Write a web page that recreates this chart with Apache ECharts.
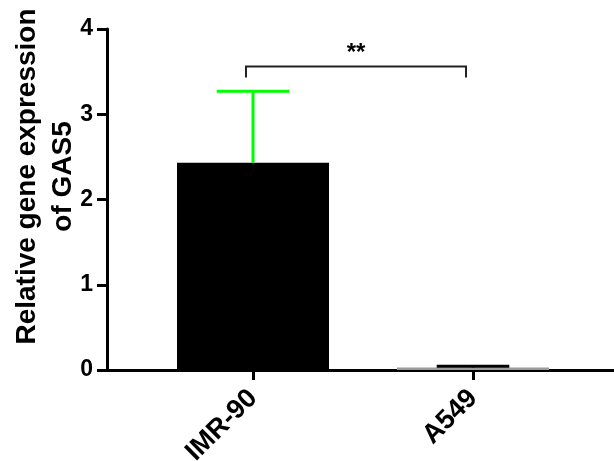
<!DOCTYPE html>
<html>
<head>
<meta charset="utf-8">
<script src="https://cdn.jsdelivr.net/npm/echarts@6/dist/echarts.min.js"></script>
<style>
  html, body { margin: 0; padding: 0; background: #fff; }
  #chart { width: 614px; height: 461px; }
</style>
</head>
<body>
<div id="chart"></div>
<script>
// data
var categories = ['IMR-90', 'A549'];
var means = [2.43, 0.03];
var errTops = [3.27, 0.045];
var barColors = ['#000000', '#9a9a9a'];
var errColors = ['#00ff00', '#000000'];
var yTicks = [0, 1, 2, 3, 4];
// significance bracket: from category 0 to 1, top and foot values, label
var bracket = [0, 1, 3.56, 3.43, '**'];

var font = "'Liberation Sans', Arial, sans-serif";
var chart = echarts.init(document.getElementById('chart'));

var barData = means.map(function (v, i) {
    return { value: v, itemStyle: { color: barColors[i] } };
});
var errData = means.map(function (v, i) {
    return [i, v, errTops[i]];
});

var option = {
    animation: false,
    grid: [
        { left: 143, right: 31, top: 29, bottom: 91, outerBoundsMode: 'none', containLabel: false },
        { left: 107, right: 0, top: 29, bottom: 91, outerBoundsMode: 'none', containLabel: false }
    ],
    xAxis: [
        {
            type: 'category',
            gridIndex: 0,
            data: categories,
            axisLine: { show: false },
            axisTick: { show: true, alignWithLabel: true, length: 10, lineStyle: { color: '#000', width: 3 } },
            axisLabel: {
                rotate: 45, margin: 24, color: '#000',
                fontSize: 27, fontWeight: 'bold', fontFamily: font
            }
        },
        {
            type: 'value',
            gridIndex: 1,
            min: 0, max: 1,
            axisLine: { show: true, lineStyle: { color: '#000', width: 3 } },
            axisTick: { show: false },
            axisLabel: { show: false },
            splitLine: { show: false }
        }
    ],
    yAxis: [
        {
            type: 'value',
            gridIndex: 0,
            min: yTicks[0], max: yTicks[yTicks.length - 1], interval: 1,
            offset: 36,
            name: 'Relative gene expression\nof GAS5',
            nameLocation: 'middle',
            nameGap: 26,
            nameMoveOverlap: false,
            nameTextStyle: {
                color: '#000', fontSize: 28, fontWeight: 'bold', fontFamily: font,
                lineHeight: 36, padding: [0, 0, 0, 46]
            },
            axisLine: { show: true, lineStyle: { color: '#000', width: 3 } },
            axisTick: { show: true, length: 10, lineStyle: { color: '#000', width: 3 } },
            axisLabel: {
                margin: 14, color: '#000',
                fontSize: 23, fontWeight: 'bold', fontFamily: font
            },
            splitLine: { show: false }
        },
        {
            type: 'value',
            gridIndex: 1,
            show: false
        }
    ],
    series: [
        {
            type: 'bar',
            xAxisIndex: 0, yAxisIndex: 0,
            data: barData,
            barWidth: 152
        },
        {
            type: 'custom',
            xAxisIndex: 0, yAxisIndex: 0,
            data: errData,
            z: 3,
            renderItem: function (params, api) {
                var i = api.value(0);
                var base = api.coord([i, api.value(1)]);
                var top = api.coord([i, api.value(2)]);
                var half = api.size([1, 0])[0] * 0.165;
                var style = { stroke: errColors[params.dataIndex], lineWidth: 3, fill: null };
                return {
                    type: 'group',
                    children: [
                        { type: 'line', shape: { x1: top[0], y1: base[1], x2: top[0], y2: top[1] }, style: style },
                        { type: 'line', shape: { x1: top[0] - half, y1: top[1], x2: top[0] + half, y2: top[1] }, style: style }
                    ]
                };
            }
        },
        {
            type: 'custom',
            xAxisIndex: 0, yAxisIndex: 0,
            data: [bracket],
            z: 4,
            renderItem: function (params, api) {
                var a = api.coord([api.value(0), api.value(2)]);
                var b = api.coord([api.value(1), api.value(2)]);
                var foot = api.coord([api.value(0), api.value(3)])[1];
                var dx = -7;
                return {
                    type: 'group',
                    children: [
                        {
                            type: 'polyline',
                            shape: { points: [[a[0] + dx, foot], [a[0] + dx, a[1]], [b[0] + dx, b[1]], [b[0] + dx, foot]] },
                            style: { stroke: '#222', lineWidth: 2, fill: null }
                        },
                        {
                            type: 'text',
                            style: {
                                text: bracket[4], x: (a[0] + b[0]) / 2 + dx, y: a[1] - 1,
                                align: 'center', verticalAlign: 'bottom',
                                fill: '#000', fontSize: 24, fontWeight: 'bold', fontFamily: font
                            }
                        }
                    ]
                };
            }
        }
    ]
};
chart.setOption(option);
</script>
</body>
</html>
